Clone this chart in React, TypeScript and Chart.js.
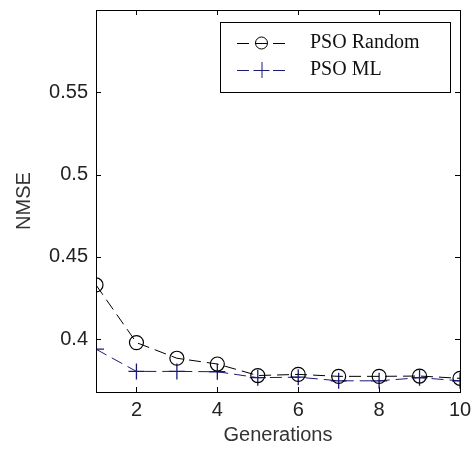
import React, { useEffect, useRef } from "react";
import { Chart, registerables } from "chart.js";

Chart.register(...registerables);

const generations = [1, 2, 3, 4, 5, 6, 7, 8, 9, 10];
const psoRandom = [0.433, 0.398, 0.3885, 0.385, 0.378, 0.3787, 0.3775, 0.3775, 0.3777, 0.3763];
const psoML = [0.394, 0.3805, 0.3805, 0.3803, 0.3767, 0.377, 0.3748, 0.3748, 0.3767, 0.3748];
const seriesNames = ["PSO Random", "PSO ML"];
const xTicks = [2, 4, 6, 8, 10];
const yTicks = [0.4, 0.45, 0.5, 0.55];
const xTitle = "Generations";
const yTitle = "NMSE";

const SANS = "'Liberation Sans', Arial, sans-serif";
const SERIF = "'Liberation Serif', 'Times New Roman', serif";

const frameAndLegend = {
  id: "frameAndLegend",
  afterDraw(chart: any) {
    const { ctx, chartArea: a, scales } = chart;
    ctx.save();
    ctx.strokeStyle = "#000";
    ctx.lineWidth = 1;
    ctx.setLineDash([]);
    ctx.strokeRect(a.left + 0.5, a.top + 0.5, a.right - a.left, a.bottom - a.top);
    const tl = 5;
    ctx.beginPath();
    for (const v of xTicks) {
      const x = Math.round(scales.x.getPixelForValue(v)) + 0.5;
      ctx.moveTo(x, a.bottom);
      ctx.lineTo(x, a.bottom - tl);
      ctx.moveTo(x, a.top);
      ctx.lineTo(x, a.top + tl);
    }
    for (const v of yTicks) {
      const y = Math.round(scales.y.getPixelForValue(v)) + 0.5;
      ctx.moveTo(a.left, y);
      ctx.lineTo(a.left + tl, y);
      ctx.moveTo(a.right, y);
      ctx.lineTo(a.right - tl, y);
    }
    ctx.stroke();

    // legend
    const bw = 230;
    const bh = 70;
    const bx = a.right - 10 - bw;
    const by = a.top + 12;
    ctx.fillStyle = "#fff";
    ctx.fillRect(bx, by, bw, bh);
    ctx.strokeRect(bx + 0.5, by + 0.5, bw, bh);
    chart.data.datasets.forEach((ds: any, i: number) => {
      const cy = by + 21 + i * 27;
      const x1 = bx + 17;
      const x2 = bx + 70;
      ctx.strokeStyle = ds.borderColor;
      ctx.lineWidth = 1;
      ctx.setLineDash(ds.borderDash);
      ctx.beginPath();
      ctx.moveTo(x1, cy + 0.5);
      ctx.lineTo(x2, cy + 0.5);
      ctx.stroke();
      ctx.setLineDash([]);
      const mx = (x1 + x2) / 2 - 2;
      ctx.beginPath();
      if (ds.pointStyle === "circle") {
        ctx.arc(mx, cy, ds.pointRadius - 1, 0, Math.PI * 2);
      } else {
        ctx.moveTo(mx - ds.pointRadius, cy + 0.5);
        ctx.lineTo(mx + ds.pointRadius, cy + 0.5);
        ctx.moveTo(mx + 0.5, cy - ds.pointRadius);
        ctx.lineTo(mx + 0.5, cy + ds.pointRadius);
      }
      ctx.strokeStyle = ds.borderColor;
      ctx.stroke();
      ctx.fillStyle = "#111";
      ctx.font = `20px ${SERIF}`;
      ctx.textBaseline = "middle";
      ctx.textAlign = "left";
      ctx.fillText(ds.label, bx + 90, cy);
    });
    ctx.restore();
  },
};

export default function App() {
  const ref = useRef<HTMLCanvasElement>(null);
  useEffect(() => {
    if (!ref.current) return;
    const chart = new Chart(ref.current, {
      type: "line",
      data: {
        datasets: [
          {
            label: seriesNames[0],
            data: generations.map((g, i) => ({ x: g, y: psoRandom[i] })),
            borderColor: "#000",
            backgroundColor: "rgba(0,0,0,0)",
            borderWidth: 1,
            borderDash: [12, 6],
            pointStyle: "circle",
            pointRadius: 7,
            pointBorderWidth: 1.2,
            pointBorderColor: "#000",
            pointBackgroundColor: "rgba(0,0,0,0)",
            tension: 0,
          },
          {
            label: seriesNames[1],
            data: generations.map((g, i) => ({ x: g, y: psoML[i] })),
            borderColor: "#1a1a78",
            backgroundColor: "rgba(0,0,0,0)",
            borderWidth: 1,
            borderDash: [12, 6],
            pointStyle: "cross",
            pointRadius: 8,
            pointBorderWidth: 1.3,
            pointBorderColor: "#1a1a78",
            tension: 0,
          },
        ],
      },
      options: {
        animation: false,
        responsive: false,
        layout: { padding: { top: 10, right: 11, left: 0, bottom: 0 } },
        plugins: { legend: { display: false }, tooltip: { enabled: false } },
        scales: {
          x: {
            type: "linear",
            min: 1,
            max: 10,
            grid: { display: false, drawTicks: false },
            border: { display: false },
            afterBuildTicks: (s: any) => {
              s.ticks = xTicks.map((v) => ({ value: v }));
            },
            afterFit: (s: any) => {
              s.height = 58;
              s.paddingLeft = 0;
              s.paddingRight = 0;
            },
            ticks: {
              padding: 6,
              color: "#222",
              font: { family: SANS, size: 20 },
              maxRotation: 0,
              callback: (v: any) => String(v),
            },
            title: {
              display: true,
              text: xTitle,
              color: "#333",
              font: { family: SANS, size: 20 },
              padding: { top: 0, bottom: 3 },
            },
          },
          y: {
            type: "linear",
            min: 0.368,
            max: 0.6,
            grid: { display: false, drawTicks: false },
            border: { display: false },
            afterBuildTicks: (s: any) => {
              s.ticks = yTicks.map((v) => ({ value: v }));
            },
            afterFit: (s: any) => {
              s.width = 96;
              s.paddingTop = 0;
              s.paddingBottom = 0;
            },
            ticks: {
              padding: 8,
              color: "#222",
              font: { family: SANS, size: 20 },
              callback: (v: any) => String(v),
            },
            title: {
              display: true,
              text: yTitle,
              color: "#333",
              font: { family: SANS, size: 20 },
              padding: { top: 12, bottom: 0 },
            },
          },
        },
      },
      plugins: [frameAndLegend],
    } as any);
    return () => chart.destroy();
  }, []);
  return (
    <div style={{ position: "absolute", left: 0, top: 0, width: 471, height: 450, background: "#fff" }}>
      <canvas ref={ref} width={471} height={450} style={{ display: "block" }} />
    </div>
  );
}
